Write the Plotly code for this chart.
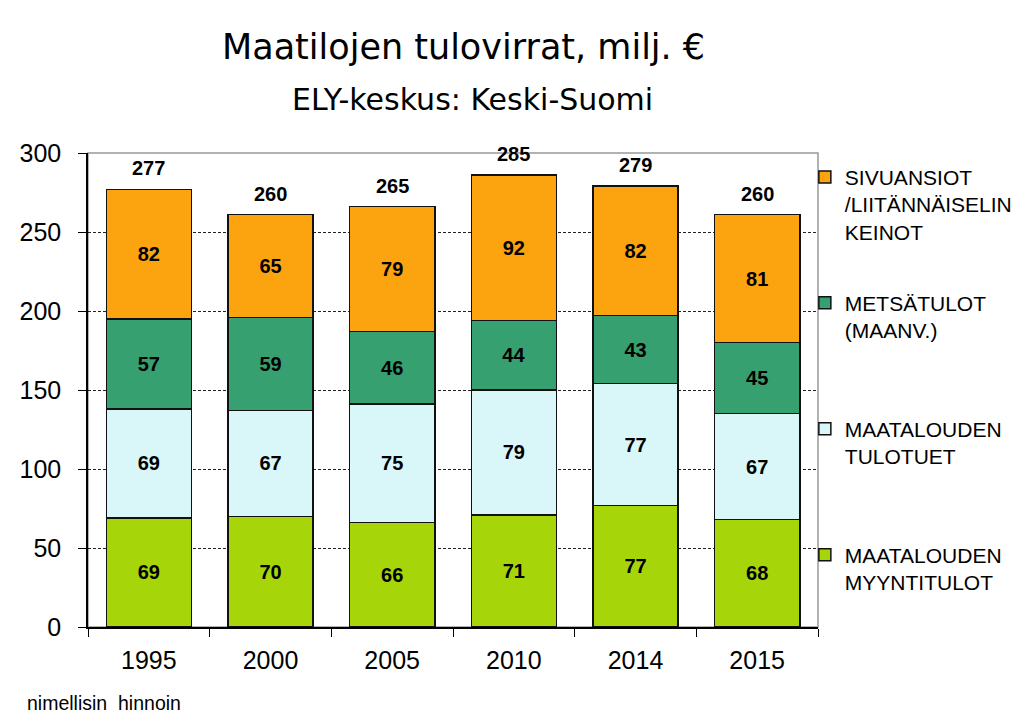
import plotly.graph_objects as go

years = ["1995", "2000", "2005", "2010", "2014", "2015"]
myyntitulot = [69, 70, 66, 71, 77, 68]
tulotuet = [69, 67, 75, 79, 77, 67]
metsatulot = [57, 59, 46, 44, 43, 45]
sivuansiot = [82, 65, 79, 92, 82, 81]
totals = [277, 260, 265, 285, 279, 260]

series = [
    ("MAATALOUDEN<br>MYYNTITULOT<br> ", myyntitulot, "#A6D60A", 4),
    ("MAATALOUDEN<br>TULOTUET<br> ", tulotuet, "#D9F6F8", 3),
    ("METSÄTULOT<br>(MAANV.)<br> ", metsatulot, "#36A070", 2),
    ("SIVUANSIOT<br>/LIITÄNNÄISELIN<br>KEINOT", sivuansiot, "#FCA310", 1),
]

AR = "Liberation Sans, Arial, sans-serif"
VE = "DejaVu Sans, Verdana, sans-serif"

fig = go.Figure()
for i, (name, vals, col, rank) in enumerate(series):
    fig.add_trace(go.Bar(
        x=years, y=vals, name=name, legendgroup="g%d" % i, legendrank=rank,
        marker=dict(color=col, line=dict(color="#111111", width=1.5)),
        text=[str(v) for v in vals], textposition="inside",
        insidetextanchor="middle", textangle=0, constraintext="none",
        textfont=dict(family=AR, size=20, color="black", weight="bold"),
        hoverinfo="skip",
    ))

stack_top = [a + b + c + d for a, b, c, d in zip(myyntitulot, tulotuet, metsatulot, sivuansiot)]

annotations = [
    dict(text="Maatilojen tulovirrat, milj. €", xref="paper", yref="paper",
         x=0.514, y=1.224, xanchor="center", yanchor="middle", showarrow=False,
         font=dict(family=VE, size=35, color="black")),
    dict(text="ELY-keskus: Keski-Suomi", xref="paper", yref="paper",
         x=0.527, y=1.112, xanchor="center", yanchor="middle", showarrow=False,
         font=dict(family=VE, size=30, color="black")),
    dict(text="nimellisin  hinnoin", xref="paper", yref="paper",
         x=-0.0863, y=-0.16, xanchor="left", yanchor="middle", showarrow=False,
         font=dict(family=AR, size=19.5, color="black")),
]
# category index positions for the total labels
for idx, (top, tot) in enumerate(zip(stack_top, totals)):
    annotations.append(dict(
        text=str(tot), x=idx, y=top, xref="x", yref="y",
        xanchor="center", yanchor="middle", yshift=21, showarrow=False,
        font=dict(family=AR, size=20, color="black", weight="bold"),
    ))

fig.add_shape(type="rect", xref="paper", yref="paper", x0=0, x1=1, y0=0, y1=1,
              line=dict(color="#999999", width=1.5), layer="below")

fig.update_layout(
    width=1024, height=724,
    margin=dict(l=88, r=206, t=153, b=97, autoexpand=False),
    paper_bgcolor="white", plot_bgcolor="white",
    barmode="stack", bargap=0.3,
    showlegend=True,
    legend=dict(
        x=0.982, xanchor="left", y=0.992, yanchor="top",
        traceorder="grouped", tracegroupgap=41,
        valign="top", itemwidth=30,
        font=dict(family=AR, size=21, color="black"),
        bgcolor="rgba(0,0,0,0)",
    ),
    font=dict(family=AR, color="black"),
    annotations=annotations,
)

fig.update_yaxes(
    range=[0, 300], dtick=50, tickmode="linear",
    showline=True, linecolor="black", linewidth=1.5,
    ticks="outside", ticklen=8, tickcolor="black", ticklabelstandoff=12,
    showgrid=True, gridcolor="#222222", gridwidth=1, griddash="3px,2px",
    zeroline=False,
    tickfont=dict(family=AR, size=25, color="black"),
)
fig.update_xaxes(
    type="category", categoryorder="array", categoryarray=years,
    range=[-0.5, len(years) - 0.5],
    showline=True, linecolor="black", linewidth=1.5,
    ticks="outside", ticklen=8, tickcolor="black", tickson="boundaries",
    ticklabelstandoff=10,
    showgrid=False,
    tickfont=dict(family=AR, size=25, color="black"),
)

fig.write_html("out.html", config={"displayModeBar": False},
               post_script="document.body.style.margin='0';")
